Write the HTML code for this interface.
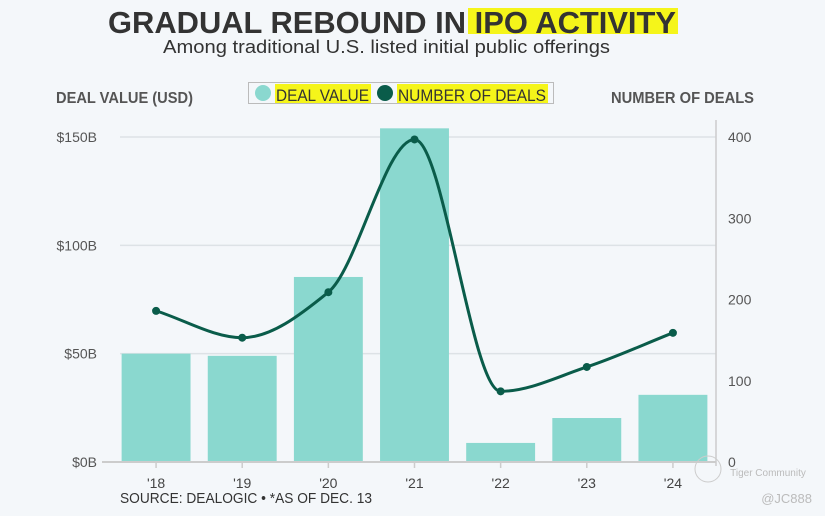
<!DOCTYPE html>
<html><head><meta charset="utf-8"><style>
body{margin:0;width:825px;height:516px;background:#f4f7fa;overflow:hidden;font-family:"Liberation Sans",sans-serif;}
svg{position:absolute;left:0;top:0}
</style></head><body>
<svg width="825" height="516">
<rect x="468" y="8" width="210" height="26" fill="#f5f51a"/>
<text x="108" y="33" textLength="568" lengthAdjust="spacingAndGlyphs" font-weight="bold" font-size="31" fill="#333">GRADUAL REBOUND IN IPO ACTIVITY</text>
<text x="163" y="53" textLength="447" lengthAdjust="spacingAndGlyphs" font-size="18" fill="#333">Among traditional U.S. listed initial public offerings</text>
<text x="56" y="103" textLength="137" lengthAdjust="spacingAndGlyphs" font-weight="bold" font-size="16" fill="#555">DEAL VALUE (USD)</text>
<text x="611" y="103" textLength="143" lengthAdjust="spacingAndGlyphs" font-weight="bold" font-size="16" fill="#555">NUMBER OF DEALS</text>
<g>
<rect x="248.5" y="82.5" width="305" height="21" fill="none" stroke="#bbb"/>
<rect x="275" y="84" width="96" height="19" fill="#f5f51a"/>
<rect x="397" y="84" width="151" height="19" fill="#f5f51a"/>
<circle cx="263" cy="93" r="8" fill="#8ad8cf"/>
<text x="276" y="101" textLength="93" lengthAdjust="spacingAndGlyphs" font-size="17" fill="#333">DEAL VALUE</text>
<circle cx="385" cy="93" r="8" fill="#0a5c4a"/>
<text x="398" y="101" textLength="148" lengthAdjust="spacingAndGlyphs" font-size="17" fill="#333">NUMBER OF DEALS</text>
</g>
<g id="plot"></g>
<text x="120" y="503" textLength="252" lengthAdjust="spacingAndGlyphs" font-size="15" fill="#333">SOURCE: DEALOGIC • *AS OF DEC. 13</text>
<circle cx="708" cy="469" r="13" fill="none" stroke="#ccc"/>
<text x="768" y="476" text-anchor="middle" font-size="10" fill="#bbb">Tiger Community</text>
<text x="812" y="503" text-anchor="end" font-size="13" fill="#bbb">@JC888</text>
</svg>
<script>
const categories=["'18","'19","'20","'21","'22","'23","'24"];
const dealValues=[50,49,85.4,154,8.8,20.3,31];
const dealCounts=[186,153,209,397,87,117,159];
const leftTicks=[0,50,100,150];
const leftTickLabels=["$0B","$50B","$100B","$150B"];
const rightTicks=[0,100,200,300,400];

const NS="http://www.w3.org/2000/svg";
const g=document.getElementById('plot');
const X0=113,X1=716,Y0=462;
const band=(X1-X0)/categories.length;
const xC=i=>X0+band*(i+0.5);
const yL=v=>Y0-v*(325/150);
const yR=v=>Y0-v*(325/400);
function mk(t,a){const e=document.createElementNS(NS,t);for(const k in a)e.setAttribute(k,a[k]);g.appendChild(e);return e;}
leftTicks.forEach((v,i)=>{
 if(v>0){const l=mk('line',{x1:X0+7,x2:X1,y1:yL(v),y2:yL(v),stroke:'#dde2e6','stroke-width':1.5});
 
 }
 const t=mk('text',{x:97,y:yL(v)+5,'text-anchor':'end','font-size':14,fill:'#555'});t.textContent=leftTickLabels[i];
 
 
});
rightTicks.forEach(v=>{
 const t=mk('text',{x:728,y:yR(v)+5,'font-size':14,fill:'#555'});t.textContent=v;
 
 
});
dealValues.forEach((v,i)=>{
 const w=band*0.8;
 const r=mk('rect',{x:xC(i)-w/2,y:yL(v),width:w,height:Y0-yL(v),fill:'#8ad8cf'});
 
 
 const t=mk('text',{x:xC(i),y:488,'text-anchor':'middle','font-size':14,fill:'#444'});t.textContent=categories[i];
 
 
 const tk=mk('line',{x1:xC(i),x2:xC(i),y1:Y0,y2:Y0+6,stroke:'#ccc','stroke-width':1.5});
 
 
});
const ax=mk('line',{x1:102,x2:X1,y1:Y0,y2:Y0,stroke:'#ccc','stroke-width':2});


const ra=mk('line',{x1:X1,x2:X1,y1:120,y2:Y0+4,stroke:'#ccc','stroke-width':1.5});


// monotone cubic interpolation
const pts=dealCounts.map((v,i)=>[xC(i),yR(v)]);
const n=pts.length,dx=band;
const sl=[];for(let i=0;i<n-1;i++)sl.push((pts[i+1][1]-pts[i][1])/dx);
const m=[];
for(let i=0;i<n;i++){
 if(i===0)m.push(sl[0]);else if(i===n-1)m.push(sl[n-2]);
 else{const a=sl[i-1],b=sl[i];m.push(a*b<=0?0:2/(1/a+1/b));}
}
let d='M'+pts[0];
for(let i=0;i<n-1;i++){
 const p1=pts[i],p2=pts[i+1];
 d+=' C'+[p1[0]+dx/3,p1[1]+m[i]*dx/3]+' '+[p2[0]-dx/3,p2[1]-m[i+1]*dx/3]+' '+p2;
}
const ln=mk('path',{d:d,fill:'none',stroke:'#0a5c4a','stroke-width':3});


pts.forEach((p,i)=>{
 const c=mk('circle',{cx:p[0],cy:p[1],r:4,fill:'#0a5c4a'});
 
 
});
</script>
</body></html>
